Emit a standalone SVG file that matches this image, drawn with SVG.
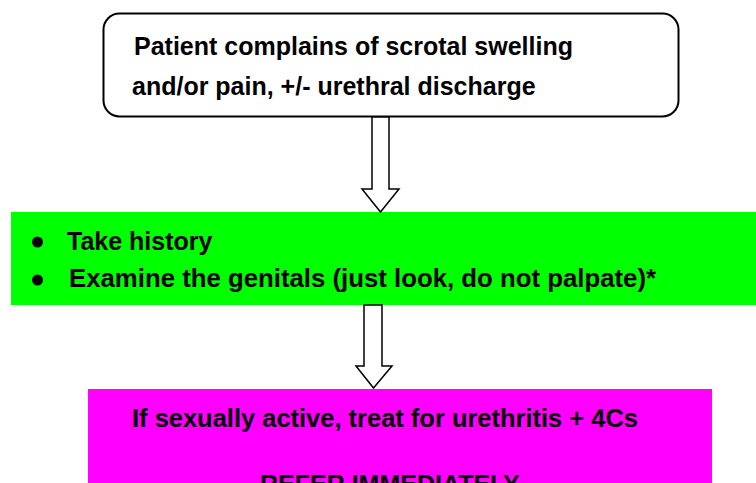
<svg xmlns="http://www.w3.org/2000/svg" width="756" height="483" viewBox="0 0 756 483">
<style>
.t{font-family:"Liberation Sans",Arial,sans-serif;font-weight:bold;font-size:25px;fill:#000}
.arrow{fill:#fff;stroke:#000;stroke-width:1.5;stroke-linejoin:miter}
</style>
<rect width="756" height="483" fill="#fff"/>
<g id="node-complaint">
<rect x="103.5" y="13.5" width="575" height="103" rx="16" ry="16" fill="#fff" stroke="#000" stroke-width="2"/>
<text class="t" x="134" y="55">Patient complains of scrotal swelling</text>
<text class="t" x="132" y="95">and/or pain, +/- urethral discharge</text>
</g>
<g id="node-examine">
<rect x="11" y="212" width="745" height="93" fill="#00ff00"/>
<circle cx="37.5" cy="242" r="5.5" fill="#000"/>
<circle cx="37.5" cy="280" r="5.5" fill="#000"/>
<text class="t" x="67" y="250">Take history</text>
<text class="t" x="69" y="287" textLength="587" lengthAdjust="spacingAndGlyphs">Examine the genitals (just look, do not palpate)*</text>
</g>
<g id="node-treat">
<rect x="88" y="389" width="624" height="94" fill="#ff00ff"/>
<text class="t" x="132" y="427" textLength="506" lengthAdjust="spacingAndGlyphs">If sexually active, treat for urethritis + 4Cs</text>
<text class="t" x="260" y="493">REFER IMMEDIATELY</text>
</g>
<g id="connectors">
<polygon class="arrow" points="372,117 389,117 389,189 399,189 380.5,212 362,189 372,189"/>
<polygon class="arrow" points="364,305 382,305 382,366 392,366 373.5,388 356,366 364,366"/>
</g>
</svg>
